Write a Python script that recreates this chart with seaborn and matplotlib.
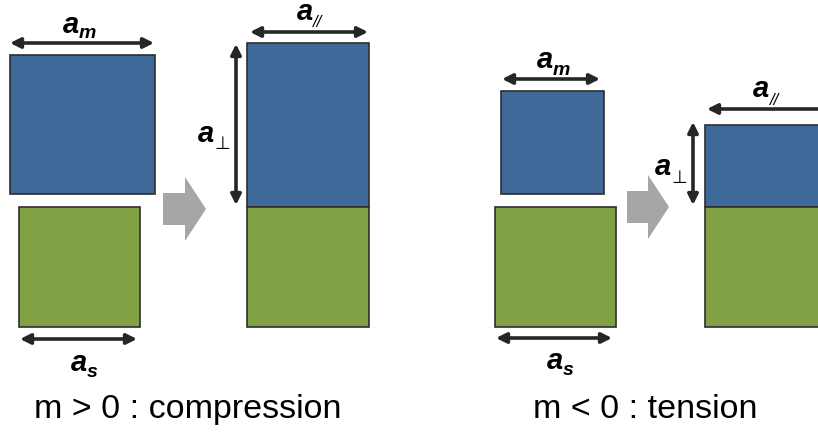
import matplotlib
matplotlib.use("Agg")
import matplotlib.pyplot as plt
import seaborn as sns

sns.set_theme(style="white")
plt.rcParams['font.family'] = ['Liberation Sans', 'DejaVu Sans']

# ---- diagram data (pixel space, y downward) ----
# rectangles: left, top, width, height, kind
rect_left   = [10, 19, 247, 247, 501, 495, 705, 705]
rect_top    = [55, 207, 43, 207, 91, 207, 125, 207]
rect_width  = [145, 121, 122, 122, 103, 121, 121, 121]
rect_height = [139, 120, 164, 120, 103, 120, 82, 120]
rect_kind   = ["film", "sub", "film", "sub", "film", "sub", "film", "sub"]

# dimension arrows: x0, y0, x1, y1
dim_x0 = [10, 20, 250, 236, 502, 496, 707, 693]
dim_y0 = [43, 339, 32, 44, 79, 338, 109, 122]
dim_x1 = [154, 137, 368, 236, 600, 612, 845, 693]
dim_y1 = [43, 339, 32, 205, 79, 338, 109, 205]

# labels: main letter position and subscript
lab_sub  = ["m", "s", "//", "\u22a5", "m", "s", "//", "\u22a5"]
lab_ax   = [63, 71, 297, 198, 537, 547, 753, 655]
lab_ay   = [33, 371, 20, 142, 68, 369, 97, 175]
lab_sx   = [79, 87, 313, 214, 553, 563, 770, 671]
lab_sy   = [38, 377, 27, 149, 75, 375, 105, 183]

# gray block arrows: body x0, body x1, body top, body bottom, head top, head bottom, tip x
blk_x0 = [163, 627]
blk_x1 = [185, 648]
blk_bt = [193, 191]
blk_bb = [225, 223]
blk_ht = [177, 175]
blk_hb = [241, 239]
blk_tip = [206, 669]

captions = ["m > 0 : compression", "m < 0 : tension"]
cap_x = [188, 645]
cap_y = [418, 418]

colors = {"film": "#3E6999", "sub": "#82A044"}
edge = "#2E2E2E"

fig = plt.figure(figsize=(8.18, 4.32), dpi=100)
ax = fig.add_axes([0, 0, 1, 1])
ax.set_xlim(0, 818)
ax.set_ylim(432, 0)
ax.axis("off")

for l, t, w, h, k in zip(rect_left, rect_top, rect_width, rect_height, rect_kind):
    ax.bar(l, h, width=w, bottom=t, align="edge", color=colors[k],
           edgecolor=edge, linewidth=1.2, zorder=2)

for x0, y0, x1, y1 in zip(dim_x0, dim_y0, dim_x1, dim_y1):
    ax.annotate("", xy=(x1, y1), xytext=(x0, y0), annotation_clip=False,
                arrowprops=dict(arrowstyle="<|-|>", color="#262626", lw=2.6,
                                mutation_scale=15, shrinkA=0, shrinkB=0),
                zorder=3)

for s, ax_, ay, sx, sy in zip(lab_sub, lab_ax, lab_ay, lab_sx, lab_sy):
    ax.text(ax_, ay, "a", fontsize=21, fontweight="bold", fontstyle="italic",
            ha="left", va="baseline", color="black")
    if s in ("m", "s"):
        ax.text(sx, sy, s, fontsize=14, fontweight="bold", fontstyle="italic",
                ha="left", va="baseline", color="black")
    elif s == "//":
        ax.text(sx, sy, s, fontsize=12, fontstyle="italic",
                ha="left", va="baseline", color="black")
    else:
        ax.text(sx, sy, s, fontsize=13, ha="left", va="baseline", color="black",
                family=["DejaVu Sans"])

for x0, x1, bt, bb, ht, hb, tip in zip(blk_x0, blk_x1, blk_bt, blk_bb, blk_ht, blk_hb, blk_tip):
    mid = (bt + bb) / 2
    ax.fill([x0, x1, x1, tip, x1, x1, x0], [bt, bt, ht, mid, hb, bb, bb],
            color="#A6A6A6", linewidth=0, zorder=2)

for c, x, y in zip(captions, cap_x, cap_y):
    ax.text(x, y, c, fontsize=24.5, ha="center", va="baseline", color="black")

fig.savefig("out.png", dpi=100)
